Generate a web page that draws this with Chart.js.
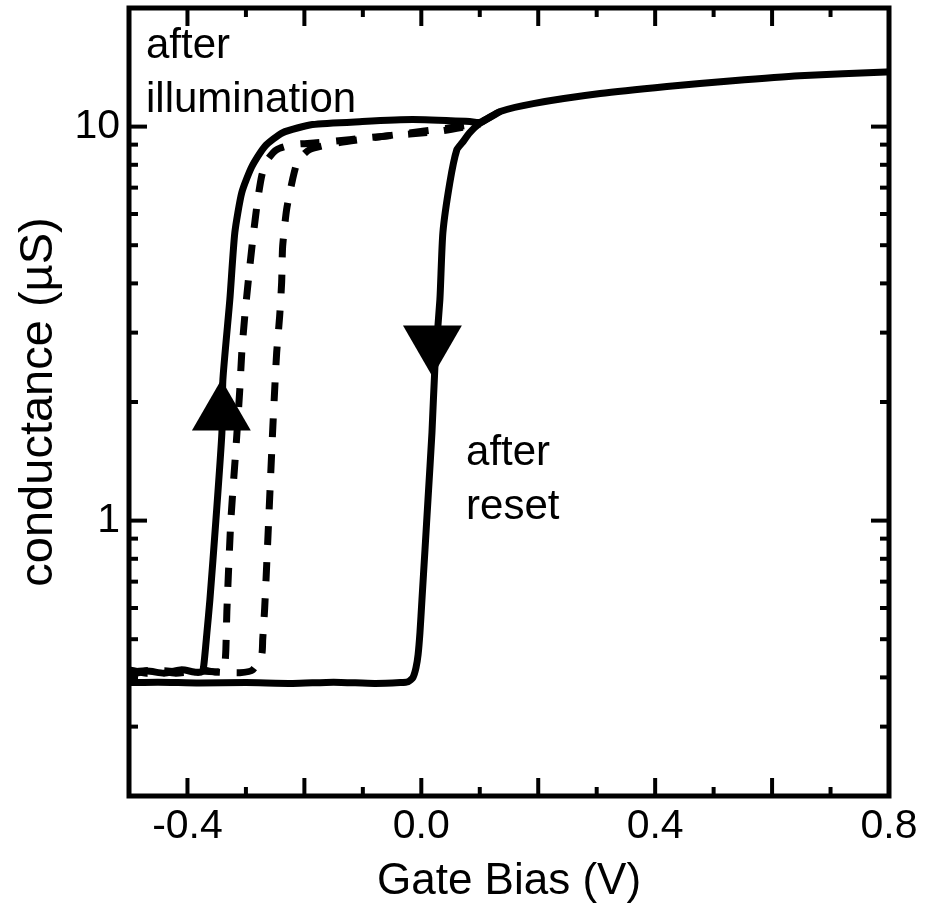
<!DOCTYPE html>
<html>
<head>
<meta charset="utf-8">
<title>conductance vs gate bias</title>
<script src="https://cdn.jsdelivr.net/npm/chart.js@4.4.1/dist/chart.umd.min.js"></script>
<style>
    html, body { margin: 0; padding: 0; background: #fff; }
    #wrap { width: 930px; height: 908px; }
</style>
</head>
<body>
<div id="wrap"><canvas id="chart" width="930" height="908"></canvas></div>
<script>
// values: gate bias in V, conductance in uS

// solid sweep, going up (left branch)
var upBias = [-0.5, -0.47, -0.44, -0.41, -0.385, -0.375, -0.372, -0.3667, -0.3616, -0.3514,
    -0.3411, -0.3394, -0.3275, -0.319, -0.3071, -0.290, -0.2679, -0.2372, -0.1861, -0.1009,
    -0.0147, 0.0829, 0.1005, 0.1350, 0.1915, 0.3059, 0.4201, 0.5325, 0.6467, 0.7949, 0.8];
var upCond = [0.405, 0.415, 0.41, 0.418, 0.412, 0.414, 0.43, 0.52, 0.63, 1.0,
    1.67, 2.28, 3.64, 5.38, 6.80, 7.91, 8.90, 9.65, 10.12, 10.30,
    10.42, 10.30, 10.25, 10.92, 11.44, 12.13, 12.64, 13.08, 13.47, 13.75, 13.8];

// solid sweep, coming back down (right branch)
var downBias = [0.1350, 0.1005, 0.0829, 0.0700, 0.0608, 0.0488, 0.0369, 0.0318, 0.0233, 0.0182,
    0.0114, 0.0063, 0.0011, -0.0023, -0.0055, -0.0091, -0.0142, -0.0227, -0.036, -0.08,
    -0.15, -0.22, -0.30, -0.38, -0.45, -0.5];
var downCond = [10.92, 10.2, 9.65, 9.1, 8.74, 7.21, 5.38, 3.64, 2.46, 1.67,
    1.13, 0.844, 0.630, 0.520, 0.457, 0.423, 0.40, 0.39, 0.388, 0.386,
    0.389, 0.386, 0.388, 0.387, 0.389, 0.388];

// dashed sweep, inner
var dashABias = [-0.5, -0.47, -0.44, -0.41, -0.38, -0.353, -0.339, -0.336, -0.3343, -0.3326,
    -0.3258, -0.3173, -0.3105, -0.3071, -0.302, -0.2952, -0.2883, -0.2798, -0.2725, -0.2628,
    -0.2474, -0.2202, -0.1741, -0.072, 0.0318, 0.1005];
var dashACond = [0.418, 0.41, 0.416, 0.412, 0.419, 0.413, 0.415, 0.43, 0.471, 0.588,
    1.0, 1.51, 2.15, 2.67, 3.30, 4.16, 5.17, 6.53, 7.55, 8.25,
    8.74, 9.00, 9.11, 9.43, 9.74, 10.15];

// dashed sweep, outer
var dashBBias = [-0.5, -0.46, -0.42, -0.38, -0.34, -0.3105, -0.2883, -0.273, -0.2713, -0.2679,
    -0.2611, -0.2542, -0.2508, -0.2474, -0.2423, -0.2389, -0.2372, -0.2304, -0.2202, -0.2116,
    -0.1912, -0.140, -0.0379, 0.0488, 0.1005];
var dashBCond = [0.412, 0.417, 0.41, 0.415, 0.412, 0.411, 0.418, 0.457, 0.499, 0.60,
    1.0, 1.70, 2.15, 2.67, 3.30, 4.02, 4.96, 6.16, 7.34, 8.15,
    8.74, 9.11, 9.56, 9.93, 10.2];

// sweep direction arrows (up, down)
var arrowBias = [-0.342, 0.019];
var arrowCond = [1.87, 2.83];

var xTicks = [-0.5, -0.4, -0.3, -0.2, -0.1, 0, 0.1, 0.2, 0.3, 0.4, 0.5, 0.6, 0.7, 0.8];
var xTickLabels = ['-0.4', '0.0', '0.4', '0.8'];
var yTicks = [0.2, 0.3, 0.4, 0.5, 0.6, 0.7, 0.8, 0.9, 1, 2, 3, 4, 5, 6, 7, 8, 9, 10, 20];
var yTickLabels = ['1', '10'];

var notes = [
    {text: 'after', x: -0.4709, y: 14.9},
    {text: 'illumination', x: -0.4709, y: 10.87},
    {text: 'after', x: 0.0765, y: 1.383},
    {text: 'reset', x: 0.0765, y: 1.009}
];

var FONT = "'Liberation Sans', Arial, Helvetica, sans-serif";

function toPoints(xs, ys) {
    return xs.map(function (x, i) {
        return {x: x, y: ys[i]};
    });
}

function curve(xs, ys, dash) {
    return {
        data: toPoints(xs, ys),
        showLine: true,
        borderColor: '#000',
        backgroundColor: '#000',
        borderWidth: 7,
        borderDash: dash || [],
        borderJoinStyle: 'round',
        pointRadius: 0,
        tension: 0.2
    };
}

function arrow(i, rotation) {
    return {
        data: [{x: arrowBias[i], y: arrowCond[i]}],
        showLine: false,
        pointStyle: 'triangle',
        pointRadius: 34,
        pointRotation: rotation,
        backgroundColor: '#000',
        borderColor: '#000',
        borderWidth: 0
    };
}

// frame, inward ticks on all four sides, and the text notes
var framePlugin = {
    id: 'frame',
    afterDatasetsDraw: function (chart) {
        var ctx = chart.ctx;
        var a = chart.chartArea;
        var xs = chart.scales.x;
        var ys = chart.scales.y;

        function seg(x1, y1, x2, y2) {
            ctx.beginPath();
            ctx.moveTo(x1, y1);
            ctx.lineTo(x2, y2);
            ctx.stroke();
        }

        ctx.save();
        ctx.strokeStyle = '#000';
        ctx.lineWidth = 4;
        xs.ticks.forEach(function (t) {
            var px = xs.getPixelForValue(t.value);
            var len = Math.round(t.value * 10) % 2 === 0 ? 18 : 9;
            seg(px, a.bottom, px, a.bottom - len);
            seg(px, a.top, px, a.top + len);
        });
        ys.ticks.forEach(function (t) {
            var py = ys.getPixelForValue(t.value);
            var lg = Math.log10(t.value);
            var len = Math.abs(lg - Math.round(lg)) < 1e-9 ? 18 : 9;
            seg(a.left, py, a.left + len, py);
            seg(a.right, py, a.right - len, py);
        });
        ctx.lineWidth = 5;
        ctx.strokeRect(a.left, a.top, a.right - a.left, a.bottom - a.top);

        ctx.fillStyle = '#000';
        ctx.font = '42px ' + FONT;
        ctx.textAlign = 'left';
        ctx.textBaseline = 'alphabetic';
        notes.forEach(function (n) {
            ctx.fillText(n.text, xs.getPixelForValue(n.x), ys.getPixelForValue(n.y));
        });
        ctx.restore();
    }
};

new Chart(document.getElementById('chart'), {
    type: 'scatter',
    data: {
        datasets: [
            arrow(0, 0),
            arrow(1, 180),
            curve(upBias, upCond),
            curve(downBias, downCond),
            curve(dashABias, dashACond, [19, 17]),
            curve(dashBBias, dashBCond, [19, 17])
        ]
    },
    options: {
        responsive: false,
        animation: false,
        layout: {autoPadding: false, padding: {top: 8, right: 41, bottom: 0, left: 0}},
        plugins: {
            legend: {display: false},
            tooltip: {enabled: false}
        },
        scales: {
            x: {
                type: 'linear',
                min: -0.5,
                max: 0.8,
                grid: {display: false, drawTicks: false},
                border: {display: false},
                afterBuildTicks: function (scale) {
                    scale.ticks = xTicks.map(function (v) { return {value: v}; });
                },
                afterFit: function (scale) {
                    scale.height = 112;
                    scale.paddingLeft = 0;
                    scale.paddingRight = 0;
                },
                ticks: {
                    autoSkip: false,
                    maxRotation: 0,
                    padding: 6,
                    color: '#000',
                    font: {family: FONT, size: 41},
                    callback: function (value) {
                        var s = Number(value).toFixed(1);
                        if (s === '-0.0') s = '0.0';
                        return xTickLabels.indexOf(s) >= 0 ? s : '';
                    }
                },
                title: {
                    display: true,
                    text: 'Gate Bias (V)',
                    color: '#000',
                    font: {family: FONT, size: 44},
                    padding: {top: 0, bottom: 0}
                }
            },
            y: {
                type: 'logarithmic',
                min: 0.2,
                max: 20,
                grid: {display: false, drawTicks: false},
                border: {display: false},
                afterBuildTicks: function (scale) {
                    scale.ticks = yTicks.map(function (v) { return {value: v}; });
                },
                afterFit: function (scale) {
                    scale.width = 129;
                    scale.paddingTop = 0;
                    scale.paddingBottom = 0;
                },
                ticks: {
                    autoSkip: false,
                    padding: 9,
                    color: '#000',
                    font: {family: FONT, size: 41},
                    callback: function (value) {
                        var s = String(value);
                        return yTickLabels.indexOf(s) >= 0 ? s : '';
                    }
                },
                title: {
                    display: true,
                    text: 'conductance (\u00B5S)',
                    color: '#000',
                    font: {family: FONT, size: 47},
                    padding: {top: 11, bottom: 0}
                }
            }
        }
    },
    plugins: [framePlugin]
});
</script>
</body>
</html>
